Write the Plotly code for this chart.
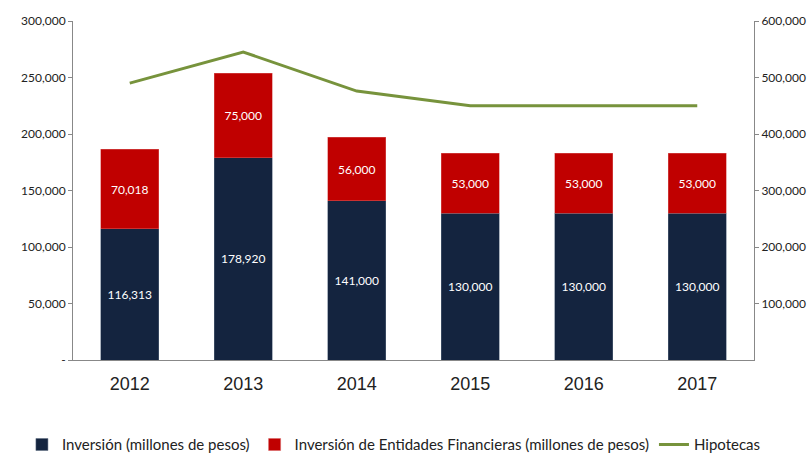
import plotly.graph_objects as go

years = ["2012", "2013", "2014", "2015", "2016", "2017"]
inversion = [116313, 178920, 141000, 130000, 130000, 130000]
entidades = [70018, 75000, 56000, 53000, 53000, 53000]
hipotecas = [490000, 545000, 476000, 450000, 450000, 450000]

left_ticks = [0, 50000, 100000, 150000, 200000, 250000, 300000]
left_text = ["-", "50,000", "100,000", "150,000", "200,000", "250,000", "300,000"]
right_ticks = [100000, 200000, 300000, 400000, 500000, 600000]
right_text = ["100,000", "200,000", "300,000", "400,000", "500,000", "600,000"]

font = "Lato, Open Sans, sans-serif"

fig = go.Figure()
fig.add_trace(go.Bar(
    x=years, y=inversion, name="Inversión (millones de pesos)",
    marker=dict(color="#14243F", line=dict(color="#5a6a80", width=0.5)),
    text=[f"{v:,}" for v in inversion], textposition="inside",
    insidetextanchor="middle", textfont=dict(color="white", size=12, family=font),
))
fig.add_trace(go.Bar(
    x=years, y=entidades, name="Inversión de Entidades Financieras (millones de pesos)",
    marker=dict(color="#C00000", line=dict(color="#d86060", width=0.5)),
    text=[f"{v:,}" for v in entidades], textposition="inside",
    insidetextanchor="middle", textfont=dict(color="white", size=12, family=font),
))
fig.add_trace(go.Scatter(
    x=years, y=hipotecas, name="Hipotecas", mode="lines",
    line=dict(color="#77933C", width=3), yaxis="y2",
))

fig.update_layout(
    width=811, height=453,
    margin=dict(l=73, r=57, t=21, b=93, autoexpand=False),
    barmode="stack", bargap=0.49,
    plot_bgcolor="white", paper_bgcolor="white",
    showlegend=True,
    legend=dict(orientation="h", x=-0.075, xanchor="left", y=-0.25, yanchor="middle",
                font=dict(family=font, size=15, color="#222"),
                traceorder="normal", itemwidth=30, tracegroupgap=0),
    xaxis=dict(showline=True, linecolor="#888", ticks="", showgrid=False,
               automargin=False, ticklabelstandoff=7,
               tickfont=dict(family="Liberation Sans, Arial", size=18, color="#222")),
    yaxis=dict(range=[0, 300000], tickvals=left_ticks, ticktext=left_text,
               showline=True, linecolor="#888", ticks="outside", ticklen=4,
               tickcolor="#888", showgrid=False, automargin=False,
               tickfont=dict(family=font, size=12, color="#222")),
    yaxis2=dict(range=[0, 600000], tickvals=right_ticks, ticktext=right_text,
                overlaying="y", side="right", automargin=False,
                showline=True, linecolor="#888", ticks="outside", ticklen=4,
                tickcolor="#888", showgrid=False,
                tickfont=dict(family=font, size=12, color="#222")),
)

fig.write_html("out.html", config={"displayModeBar": False},
               post_script="document.body.style.margin='0';document.body.style.overflow='hidden';")
